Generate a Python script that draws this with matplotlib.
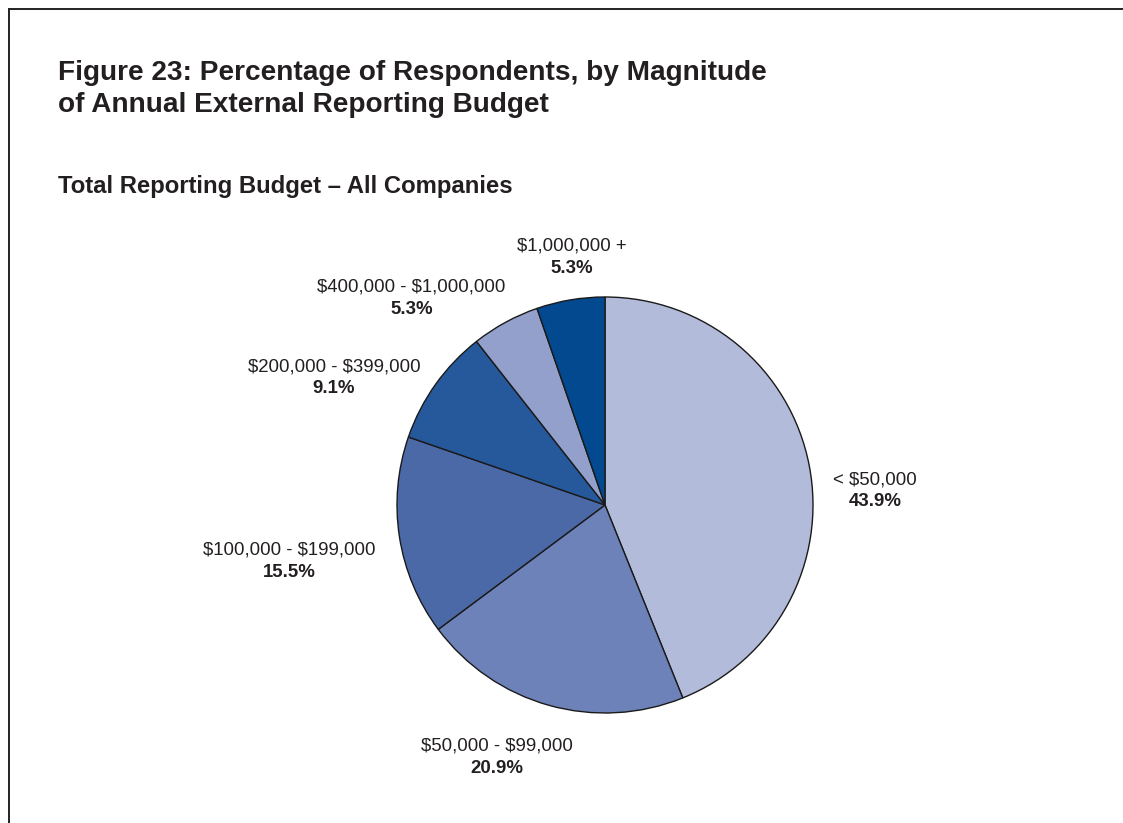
import matplotlib
matplotlib.use("Agg")
import matplotlib.pyplot as plt
from matplotlib.lines import Line2D

# Budget bands and share of respondents (%)
categories = ["< $50,000", "$50,000 - $99,000", "$100,000 - $199,000",
              "$200,000 - $399,000", "$400,000 - $1,000,000", "$1,000,000 +"]
shares = [43.9, 20.9, 15.5, 9.1, 5.3, 5.3]
colors = ["#B3BBDB", "#6C82B8", "#4B69A7", "#26589C", "#93A0CB", "#02498F"]

# Label anchor points (in pie-radius units)
label_pos = [(1.298, 0.072), (-0.519, -1.210), (-1.519, -0.267),
             (-1.303, 0.615), (-0.930, 0.998), (-0.159, 1.195)]

W, H, DPI = 1123, 823, 100
fig = plt.figure(figsize=(W / DPI, H / DPI), dpi=DPI)
fig.patch.set_facecolor("white")

font = "Liberation Sans"
ink = "#231F20"

# Pie axes: centre at (605, 505) px, radius 208 px
cx, cy, R, k = 605, 505, 208, 1.9
half = R * k
ax = fig.add_axes([(cx - half) / W, (H - cy - half) / H, 2 * half / W, 2 * half / H])

ax.pie(shares, colors=colors, startangle=90, counterclock=False, radius=1.0,
       wedgeprops=dict(edgecolor="#1a1a1a", linewidth=1.0))
ax.set_xlim(-k, k)
ax.set_ylim(-k, k)
ax.set_aspect("equal")
ax.axis("off")

for name, val, (x, y) in zip(categories, shares, label_pos):
    ax.annotate(name.replace("$", r"\$"), (x, y), xytext=(0, 7.5), textcoords="offset points",
                ha="center", va="center", fontsize=13.4, family=font, color=ink)
    ax.annotate(f"{val:.1f}%", (x, y), xytext=(0, -8.5), textcoords="offset points",
                ha="center", va="center", fontsize=13.4, family=font,
                fontweight="bold", color=ink)

# Titles
fig.text(58 / W, 1 - 80 / H, "Figure 23: Percentage of Respondents, by Magnitude",
         fontsize=20.2, fontweight="bold", family=font, color=ink, va="baseline")
fig.text(58 / W, 1 - 112 / H, "of Annual External Reporting Budget",
         fontsize=20.2, fontweight="bold", family=font, color=ink, va="baseline")
fig.text(58 / W, 1 - 193 / H, "Total Reporting Budget \u2013 All Companies",
         fontsize=17.2, fontweight="bold", family=font, color=ink, va="baseline")

# Frame lines along the top and left edges
fig.add_artist(Line2D([8.5 / W, 1.0], [1 - 9 / H, 1 - 9 / H], color="#222222", lw=1.4))
fig.add_artist(Line2D([8.5 / W, 8.5 / W], [1 - 9 / H, 0.0], color="#222222", lw=1.4))

fig.savefig("out.png", dpi=DPI, facecolor="white")
